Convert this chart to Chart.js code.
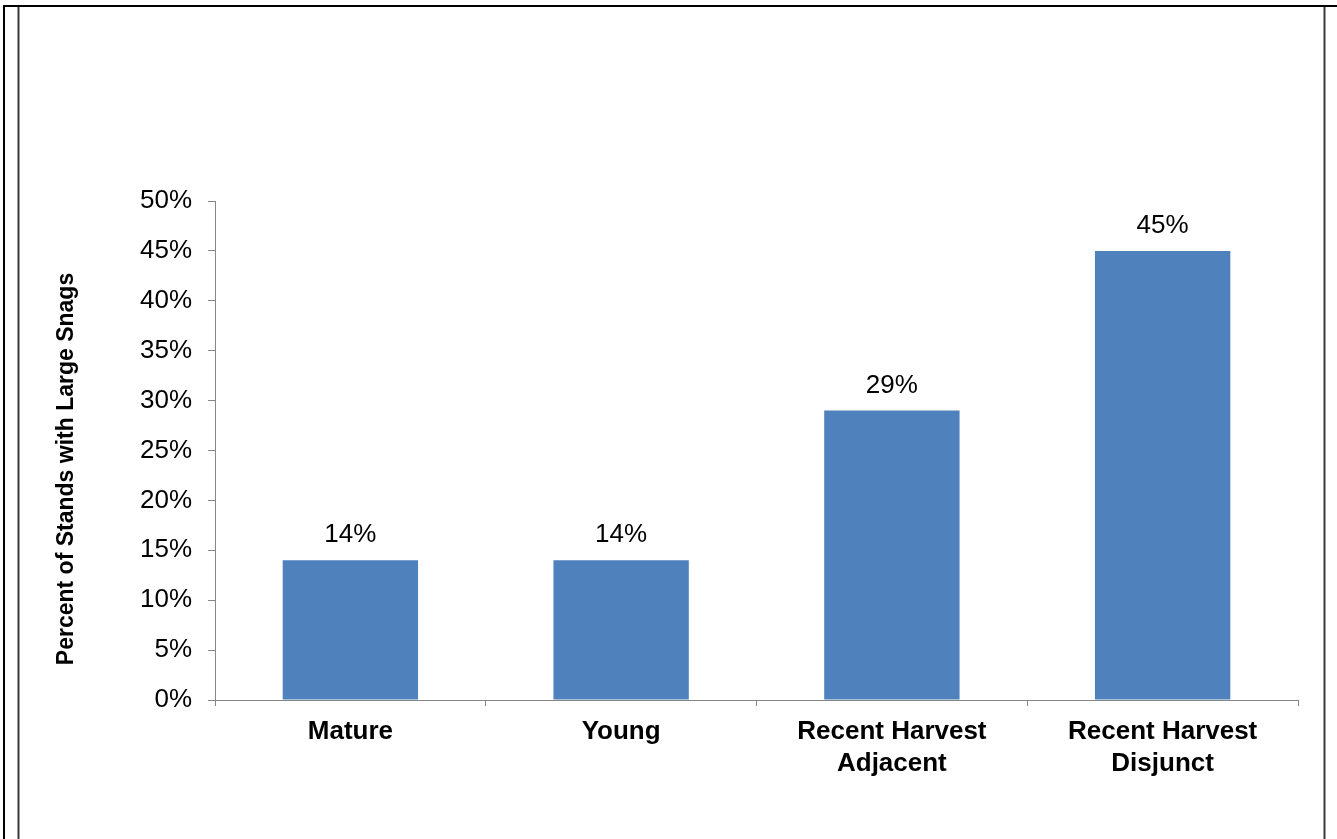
<!DOCTYPE html>
<html>
<head>
<meta charset="utf-8">
<script src="https://cdn.jsdelivr.net/npm/chart.js@4"></script>
<style>
  html, body { margin: 0; padding: 0; background: #fff; }
  #wrap { width: 1337px; height: 839px; position: relative; }
</style>
</head>
<body>
<div id="wrap"><canvas id="SnagChart" width="1337" height="839"></canvas></div>
<script>
const categories = [['Mature'], ['Young'], ['Recent Harvest', 'Adjacent'], ['Recent Harvest', 'Disjunct']];
const snagPercent = [14, 14, 29, 45];
const yTicks = [0, 5, 10, 15, 20, 25, 30, 35, 40, 45, 50];
const yTitle = 'Percent of Stands with Large Snags';

const FONT = '"Liberation Sans", Arial, sans-serif';
const axisGray = '#868686';

// frame lines around the picture + rotated y title + value labels
const extras = {
    id: 'extras',
    beforeDraw(chart) {
        const c = chart.ctx;
        c.save();
        c.fillStyle = '#fff';
        c.fillRect(0, 0, chart.width, chart.height);
        c.strokeStyle = '#000';
        c.lineWidth = 2;
        c.beginPath();
        c.moveTo(4, 839); c.lineTo(4, 6); c.lineTo(1337, 6);
        c.stroke();
        c.strokeStyle = '#3a3a3a';
        c.lineWidth = 2;
        c.beginPath();
        c.moveTo(18.5, 7); c.lineTo(18.5, 839);
        c.moveTo(1324.5, 7); c.lineTo(1324.5, 839);
        c.stroke();
        c.restore();
    },
    afterDatasetsDraw(chart) {
        const c = chart.ctx;
        c.save();
        c.fillStyle = '#000';
        c.font = '26px ' + FONT;
        c.textAlign = 'center';
        c.textBaseline = 'alphabetic';
        chart.getDatasetMeta(0).data.forEach((bar, i) => {
            c.fillText(snagPercent[i] + '%', bar.x, bar.y - 18);
        });
        c.translate(73, 469);
        c.rotate(-Math.PI / 2);
        c.font = 'bold 23px ' + FONT;
        c.fillText(yTitle, 0, 0);
        c.restore();
    }
};

let snagChart = new Chart(document.getElementById('SnagChart').getContext('2d'), {
    type: 'bar',
    data: {
        labels: categories,
        datasets: [{
            label: 'Large snags',
            data: snagPercent,
            backgroundColor: '#4F81BD',
            borderWidth: 0,
            categoryPercentage: 0.5,
            barPercentage: 1
        }]
    },
    options: {
        responsive: false,
        animation: false,
        layout: {
            padding: { left: 50, right: 39, top: 201, bottom: 39 }
        },
        plugins: {
            legend: { display: false },
            tooltip: { enabled: false }
        },
        scales: {
            x: {
                afterFit(scale) { scale.height = 100; },
                grid: {
                    display: true,
                    offset: true,
                    drawOnChartArea: false,
                    drawTicks: true,
                    tickLength: 6,
                    color: axisGray
                },
                border: { color: axisGray, width: 1 },
                ticks: {
                    color: '#000',
                    padding: 10,
                    font: { family: FONT, size: 26, weight: 'bold', lineHeight: 1.23 }
                }
            },
            y: {
                min: 0,
                max: 50,
                afterFit(scale) { scale.width = 165; },
                afterBuildTicks(scale) { scale.ticks = yTicks.map(v => ({ value: v })); },
                grid: {
                    display: true,
                    drawOnChartArea: false,
                    drawTicks: true,
                    tickLength: 7,
                    color: axisGray
                },
                border: { color: axisGray, width: 1 },
                ticks: {
                    color: '#000',
                    padding: 16,
                    font: { family: FONT, size: 26 },
                    callback: v => v + '%'
                }
            }
        }
    },
    plugins: [extras]
});
</script>
</body>
</html>
